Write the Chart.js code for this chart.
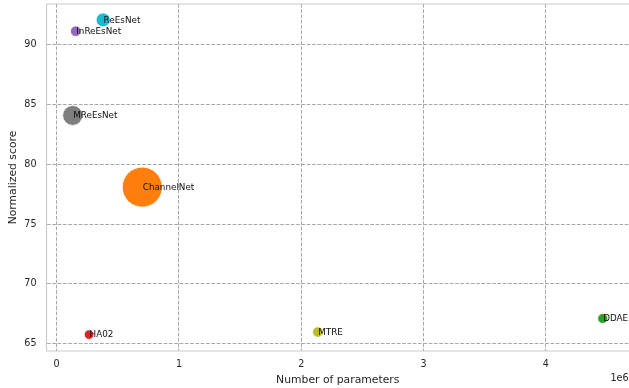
<!DOCTYPE html>
<html>
<head>
<meta charset="utf-8">
<script src="https://cdn.jsdelivr.net/npm/chart.js@4/dist/chart.umd.min.js"></script>
<style>
  html, body { margin: 0; padding: 0; background: #fff; }
  canvas { display: block; }
</style>
</head>
<body>
<canvas id="bubbleChart" width="629" height="388"></canvas>
<script>
// --- Data ---
const modelNames = ['ReEsNet', 'InReEsNet', 'MReEsNet', 'ChannelNet', 'HA02', 'MTRE', 'DDAE'];
const paramCounts = [380000, 156000, 131000, 700000, 265000, 2135000, 4465000];
const normScores = [92.1, 91.15, 84.1, 78.1, 65.75, 65.97, 67.1];
const bubbleRadius = [7, 5.3, 10, 20, 4.8, 5.2, 5];
const pointColors = ['#17becf', '#9467bd', '#7f7f7f', '#ff7f0e', '#d62728', '#bcbd22', '#2ca02c'];
const xTicks = [0, 1, 2, 3, 4];
const yTicks = [65, 70, 75, 80, 85, 90];

const FONT = "'DejaVu Sans', sans-serif";
const TEXT_COLOR = '#262626';
const GRID_COLOR = '#a8a8a8';
const SPINE_COLOR = '#cccccc';

// one dataset per model so each gets its own colour
const datasets = modelNames.map((name, i) => ({
  label: name,
  data: [{ x: paramCounts[i], y: normScores[i], r: bubbleRadius[i] }],
  backgroundColor: pointColors[i],
  borderColor: '#ffffff',
  borderWidth: 0.8,
  hoverRadius: 0
}));

// --- Point labels, spines and the offset text ---
const decorPlugin = {
  id: 'decor',
  beforeDatasetsDraw(chart) {
    const { ctx, chartArea: a } = chart;
    ctx.save();
    ctx.strokeStyle = SPINE_COLOR;
    ctx.lineWidth = 1.2;
    ctx.beginPath();
    ctx.moveTo(a.left, a.top);
    ctx.lineTo(a.right + 2, a.top);
    ctx.moveTo(a.left, a.top);
    ctx.lineTo(a.left, a.bottom);
    ctx.lineTo(a.right + 2, a.bottom);
    ctx.stroke();
    ctx.restore();
  },
  afterDatasetsDraw(chart) {
    const { ctx, scales: { x, y }, chartArea: a } = chart;
    ctx.save();
    ctx.font = '8.8px ' + FONT;
    ctx.fillStyle = '#111111';
    ctx.textAlign = 'left';
    ctx.textBaseline = 'middle';
    modelNames.forEach((name, i) => {
      ctx.fillText(name, x.getPixelForValue(paramCounts[i]) + 0.5, y.getPixelForValue(normScores[i]) + 0.5);
    });
    // scientific offset text under the x axis
    ctx.font = '9.6px ' + FONT;
    ctx.fillStyle = TEXT_COLOR;
    ctx.textAlign = 'right';
    ctx.fillText('1e6', a.right - 0.5, 378);
    ctx.restore();
  }
};

new Chart(document.getElementById('bubbleChart'), {
  type: 'bubble',
  data: { datasets },
  plugins: [decorPlugin],
  options: {
    responsive: false,
    animation: false,
    layout: { autoPadding: false, padding: { top: 4, right: 0, bottom: 0, left: 0 } },
    plugins: {
      legend: { display: false },
      tooltip: { enabled: false }
    },
    scales: {
      x: {
        type: 'linear',
        min: -83000,
        max: 4680000,
        afterFit: scale => {
          scale.height = 37;
          scale.paddingLeft = 0;
          scale.paddingRight = 0;
        },
        afterBuildTicks: scale => { scale.ticks = xTicks.map(v => ({ value: v * 1e6 })); },
        grid: { color: GRID_COLOR, lineWidth: 1, drawTicks: false },
        border: { display: false, dash: [3.7, 1.6] },
        ticks: {
          padding: 8,
          color: TEXT_COLOR,
          font: { family: FONT, size: 9.6 },
          maxRotation: 0,
          callback: v => String(v / 1e6)
        },
        title: {
          display: true,
          text: 'Number of parameters',
          color: TEXT_COLOR,
          font: { family: FONT, size: 10.8 },
          padding: { top: 0, bottom: 1.5 }
        }
      },
      y: {
        type: 'linear',
        min: 64.38,
        max: 93.43,
        afterFit: scale => {
          scale.width = 46.5;
          scale.paddingTop = 0;
          scale.paddingBottom = 0;
        },
        afterBuildTicks: scale => { scale.ticks = yTicks.map(v => ({ value: v })); },
        grid: { color: GRID_COLOR, lineWidth: 1, drawTicks: false },
        border: { display: false, dash: [3.7, 1.6] },
        ticks: {
          padding: 10,
          color: TEXT_COLOR,
          font: { family: FONT, size: 9.6 }
        },
        title: {
          display: true,
          text: 'Normalized score',
          color: TEXT_COLOR,
          font: { family: FONT, size: 10.8 },
          padding: { top: 7, bottom: 0 }
        }
      }
    }
  }
});
</script>
</body>
</html>
